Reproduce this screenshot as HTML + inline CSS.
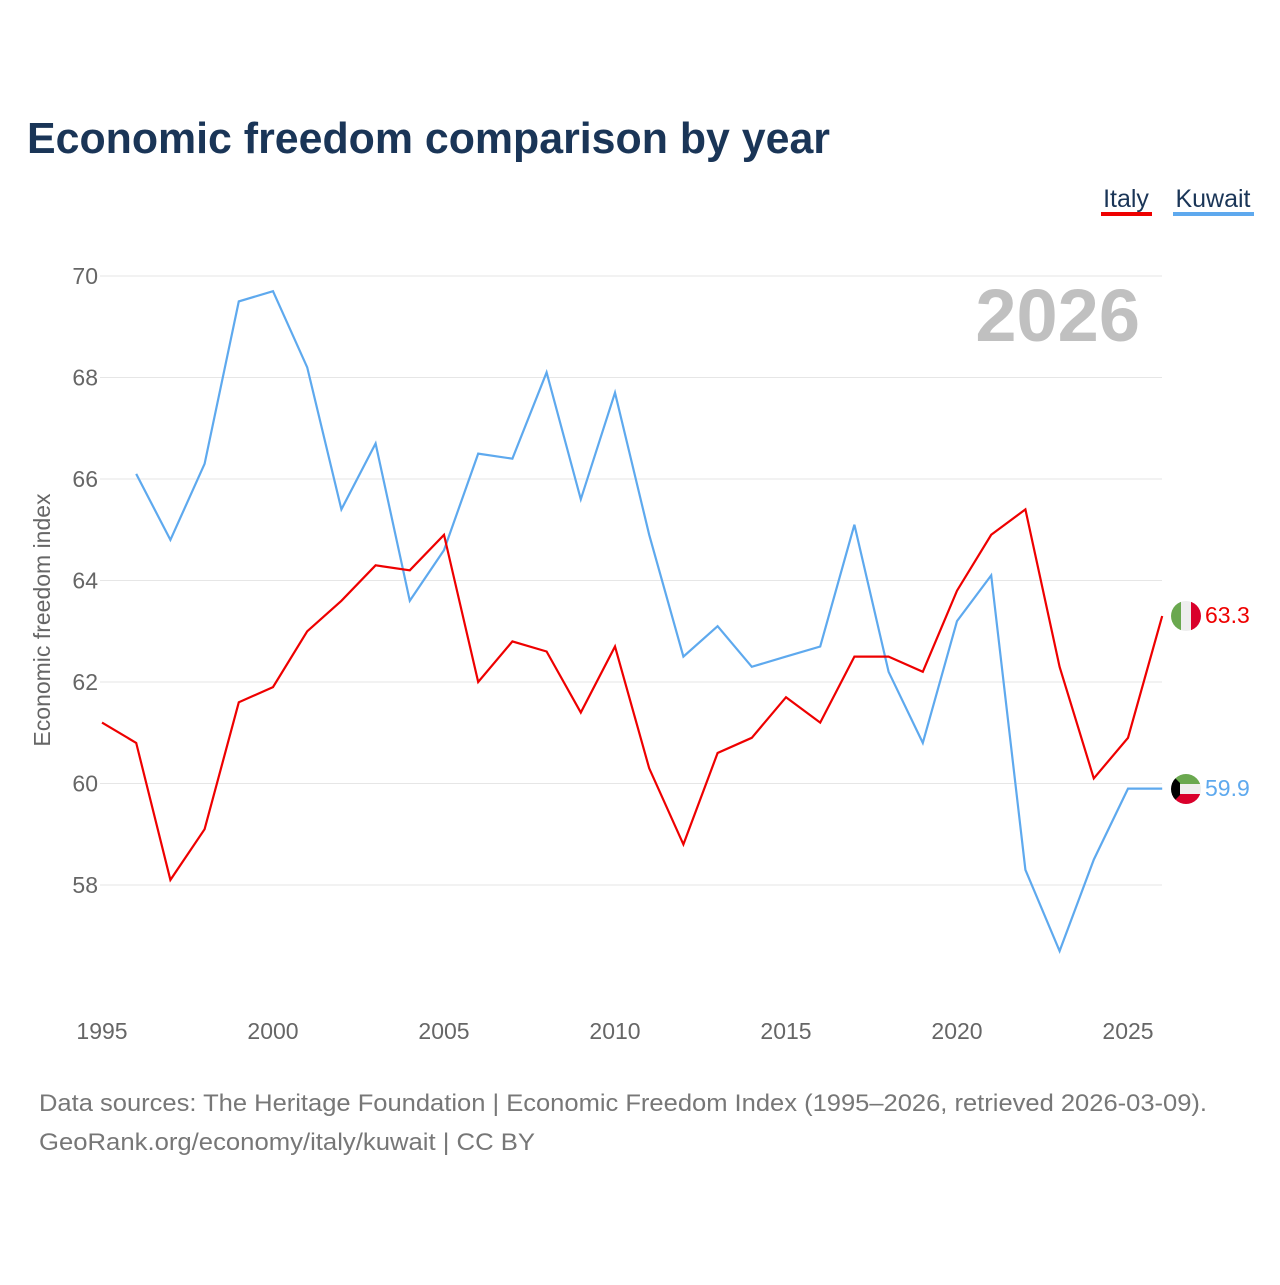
<!DOCTYPE html>
<html><head><meta charset="utf-8"><style>
body{margin:0;background:#fff;font-family:"Liberation Sans",sans-serif;}
</style></head><body>
<svg id="chart" width="1280" height="1280" viewBox="0 0 1280 1280" xmlns="http://www.w3.org/2000/svg">
<defs>
<clipPath id="cIt"><circle cx="1186" cy="616" r="15"/></clipPath>
<clipPath id="cKw"><circle cx="1186" cy="789" r="15"/></clipPath>
</defs>
<text x="27" y="153" font-size="44" font-weight="bold" fill="#1a3557" textLength="803" lengthAdjust="spacingAndGlyphs">Economic freedom comparison by year</text>
<g>
<text x="1126" y="207" font-size="25" fill="#1a3557" text-anchor="middle">Italy</text>
<rect x="1101" y="212" width="51" height="4" fill="#ee0000"/>
<text x="1213" y="207" font-size="25" fill="#1a3557" text-anchor="middle">Kuwait</text>
<rect x="1173" y="212" width="81" height="4" fill="#5ea9ee"/>
</g>
<text x="1140" y="341" font-size="74" font-weight="bold" fill="#c0c0c0" text-anchor="end">2026</text>
<g id="grid"></g>
<g id="yt"></g>
<g id="xt"></g>
<text transform="translate(50,620) rotate(-90)" font-size="23" fill="#666" text-anchor="middle">Economic freedom index</text>
<path id="lineKw" fill="none" stroke="#5ea9ee" stroke-width="2.2"/>
<path id="lineIt" fill="none" stroke="#ee0000" stroke-width="2.2"/>
<g clip-path="url(#cIt)">
<rect x="1171" y="601" width="10" height="30" fill="#6aa84f"/><rect x="1181" y="601" width="10" height="30" fill="#eee"/><rect x="1191" y="601" width="10" height="30" fill="#d9002b"/>
</g>
<g clip-path="url(#cKw)">
<rect x="1171" y="774" width="30" height="10" fill="#6aa84f"/><rect x="1171" y="784" width="30" height="10" fill="#eee"/><rect x="1171" y="794" width="30" height="10" fill="#d9002b"/>
<polygon points="1171,774 1180,783 1180,795 1171,804" fill="#000"/>
</g>
<text id="lblIt" x="1205" y="623" font-size="23" fill="#ee0000"></text>
<text id="lblKw" x="1205" y="796" font-size="23" fill="#5ea9ee"></text>
<text x="39" y="1111" font-size="24" fill="#777" textLength="1168" lengthAdjust="spacingAndGlyphs">Data sources: The Heritage Foundation | Economic Freedom Index (1995–2026, retrieved 2026-03-09).</text>
<text x="39" y="1150" font-size="24" fill="#777" textLength="496" lengthAdjust="spacingAndGlyphs">GeoRank.org/economy/italy/kuwait | CC BY</text>
</svg>
<script>
const years=[1995,1996,1997,1998,1999,2000,2001,2002,2003,2004,2005,2006,2007,2008,2009,2010,2011,2012,2013,2014,2015,2016,2017,2018,2019,2020,2021,2022,2023,2024,2025,2026];
const italy=[61.2,60.8,58.1,59.1,61.6,61.9,63.0,63.6,64.3,64.2,64.9,62.0,62.8,62.6,61.4,62.7,60.3,58.8,60.6,60.9,61.7,61.2,62.5,62.5,62.2,63.8,64.9,65.4,62.3,60.1,60.9,63.3];
const kuwait=[null,66.1,64.8,66.3,69.5,69.7,68.2,65.4,66.7,63.6,64.6,66.5,66.4,68.1,65.6,67.7,64.9,62.5,63.1,62.3,62.5,62.7,65.1,62.2,60.8,63.2,64.1,58.3,56.7,58.5,59.9,59.9];
const yTicks=[58,60,62,64,66,68,70];
const xTicks=[1995,2000,2005,2010,2015,2020,2025];
const NS="http://www.w3.org/2000/svg";
const x=y=>102+(y-1995)*34.2;
const yS=v=>885-(v-58)*50.75;
const grid=document.getElementById('grid'),yt=document.getElementById('yt'),xt=document.getElementById('xt');
yTicks.forEach(t=>{
 const l=document.createElementNS(NS,'line');
 l.setAttribute('x1',100);l.setAttribute('x2',1162);l.setAttribute('y1',yS(t));l.setAttribute('y2',yS(t));
 l.setAttribute('stroke','#e6e6e6');l.setAttribute('stroke-width','1');
 
 
 grid.appendChild(l);
 const tx=document.createElementNS(NS,'text');
 tx.setAttribute('x',98);tx.setAttribute('y',yS(t)+8);tx.setAttribute('text-anchor','end');
 tx.setAttribute('font-size','23');tx.setAttribute('fill','#666');tx.textContent=t;
 
 
 yt.appendChild(tx);
});
xTicks.forEach(t=>{
 const tx=document.createElementNS(NS,'text');
 tx.setAttribute('x',x(t));tx.setAttribute('y',1039);tx.setAttribute('text-anchor','middle');
 tx.setAttribute('font-size','23');tx.setAttribute('fill','#666');tx.textContent=t;
 
 
 xt.appendChild(tx);
});
function path(vals){let d='',m=true;vals.forEach((v,i)=>{if(v==null){m=true;return;}d+=(m?'M':'L')+x(years[i]).toFixed(1)+','+yS(v).toFixed(1);m=false;});return d;}
document.getElementById('lineIt').setAttribute('d',path(italy));
document.getElementById('lineKw').setAttribute('d',path(kuwait));
const li=italy[italy.length-1],lk=kuwait[kuwait.length-1];
document.getElementById('lblIt').textContent=li.toFixed(1);
document.getElementById('lblKw').textContent=lk.toFixed(1);
</script>
</body></html>
